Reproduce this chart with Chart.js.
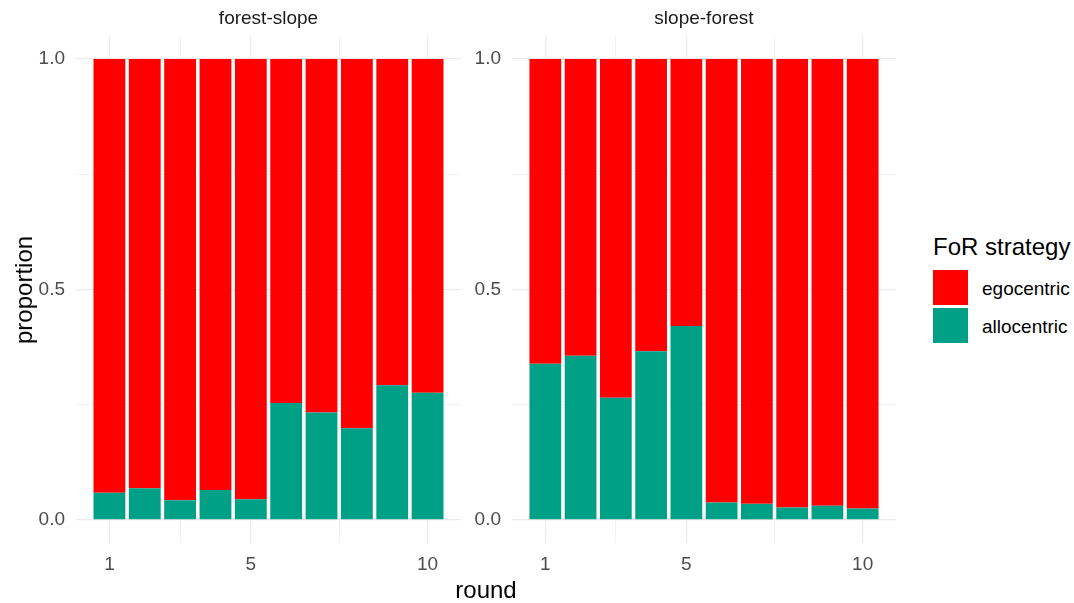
<!DOCTYPE html>
<html>
<head>
<meta charset="utf-8">
<script src="https://cdn.jsdelivr.net/npm/chart.js@4.4.1/dist/chart.umd.min.js"></script>
<style>
  html, body { margin: 0; padding: 0; background: #ffffff; }
  body { width: 1074px; height: 603px; position: relative; overflow: hidden;
         font-family: "Liberation Sans", Arial, sans-serif; }
  .cv { position: absolute; top: 0; }
  .txt { position: absolute; white-space: nowrap; line-height: 1; }
  .strip { font-size: 19px; color: #1a1a1a; transform: translateX(-50%); top: 8px; }
  .key { position: absolute; width: 35px; height: 35px; }
</style>
</head>
<body>
<canvas id="c1" class="cv" width="466" height="603" style="left:0px;width:466px;height:603px;"></canvas>
<canvas id="c2" class="cv" width="440" height="603" style="left:466px;width:440px;height:603px;"></canvas>

<div class="txt strip" style="left:268.5px;">forest-slope</div>
<div class="txt strip" style="left:704px;">slope-forest</div>
<div class="txt" style="left:486px;top:578px;font-size:24px;color:#000;transform:translateX(-50%);">round</div>
<div class="txt" style="left:24px;top:289.5px;font-size:24px;color:#000;transform:translate(-50%,-50%) rotate(-90deg);">proportion</div>

<div class="txt" style="left:933px;top:235px;font-size:24px;color:#000;">FoR strategy</div>
<div class="key" style="left:933px;top:270px;background:#FF0000;"></div>
<div class="key" style="left:933px;top:308px;background:#00A087;"></div>
<div class="txt" style="left:982px;top:279px;font-size:19px;color:#000;">egocentric</div>
<div class="txt" style="left:982px;top:317px;font-size:19px;color:#000;">allocentric</div>

<script>
// ---- data ----
const rounds = [1, 2, 3, 4, 5, 6, 7, 8, 9, 10];
const panelNames = ["forest-slope", "slope-forest"];
const seriesNames = ["egocentric", "allocentric"];
const allocForestSlope = [0.059, 0.069, 0.043, 0.065, 0.045, 0.254, 0.233, 0.199, 0.292, 0.276];
const egoForestSlope   = [0.941, 0.931, 0.957, 0.935, 0.955, 0.746, 0.767, 0.801, 0.708, 0.724];
const allocSlopeForest = [0.339, 0.356, 0.265, 0.366, 0.421, 0.038, 0.035, 0.027, 0.031, 0.025];
const egoSlopeForest   = [0.661, 0.644, 0.735, 0.634, 0.579, 0.962, 0.965, 0.973, 0.969, 0.975];
const yTicks = [0, 0.25, 0.5, 0.75, 1];
const yLabelTicks = [0, 0.5, 1];
const xTicks = [1, 3, 5, 7.5, 10];
const xLabelTicks = [1, 5, 10];

const colEgo = "#FF0000";
const colAllo = "#00A087";
const gridCol = "#ebebeb";
const font = { family: "'Liberation Sans', Arial, sans-serif", size: 19 };

function lw(major) {
  return c => {
    if (!c || !c.tick) return 1.2;
    return major.includes(c.tick.value) ? 1.2 : 0.6;
  };
}

function makeChart(id, alloc, ego, axisWidth, padRight) {
  const ctx = document.getElementById(id).getContext("2d");
  return new Chart(ctx, {
    type: "bar",
    data: {
      datasets: [
        { label: seriesNames[1], data: rounds.map((r, i) => ({ x: r, y: alloc[i] })),
          backgroundColor: colAllo, borderWidth: 0, barPercentage: 0.9, categoryPercentage: 1.0 },
        { label: seriesNames[0], data: rounds.map((r, i) => ({ x: r, y: ego[i] })),
          backgroundColor: colEgo, borderWidth: 0, barPercentage: 0.9, categoryPercentage: 1.0 }
      ]
    },
    options: {
      responsive: false,
      animation: false,
      devicePixelRatio: 1,
      layout: { padding: { top: 36, right: padRight, bottom: 20, left: 0 } },
      plugins: { legend: { display: false }, tooltip: { enabled: false }, title: { display: false } },
      scales: {
        x: {
          type: "linear", stacked: true, min: 0.055, max: 10.945, offset: false,
          afterBuildTicks: s => { s.ticks = xTicks.map(v => ({ value: v })); },
          afterFit: s => { s.height = 40; },
          border: { display: false },
          grid: { offset: false, drawTicks: false, color: gridCol, lineWidth: lw(xLabelTicks) },
          ticks: {
            padding: 10, color: "#4d4d4d", font: font, maxRotation: 0, autoSkip: false,
            callback: v => (xLabelTicks.includes(v) ? String(v) : "")
          }
        },
        y: {
          type: "linear", stacked: true, min: -0.05, max: 1.05,
          afterBuildTicks: s => { s.ticks = yTicks.map(v => ({ value: v })); },
          afterFit: s => { s.width = axisWidth; },
          border: { display: false },
          grid: { drawTicks: false, color: gridCol, lineWidth: lw(yLabelTicks) },
          ticks: {
            padding: 11, color: "#4d4d4d", font: font, autoSkip: false,
            callback: v => (yLabelTicks.includes(v) ? v.toFixed(1) : "")
          }
        }
      }
    }
  });
}

makeChart("c1", allocForestSlope, egoForestSlope, 76, 5);
makeChart("c2", allocSlopeForest, egoSlopeForest, 46, 10);
</script>
</body>
</html>
